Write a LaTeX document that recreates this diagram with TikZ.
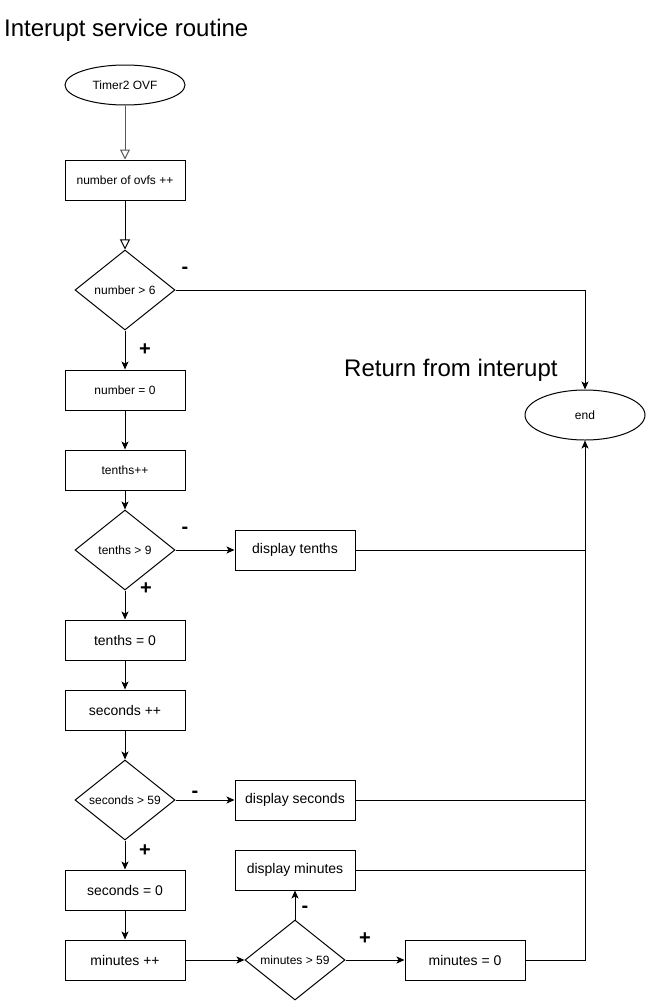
\documentclass[tikz,border=0pt]{standalone}
\usepackage{fontspec}
\setmainfont{Liberation Sans}
\usetikzlibrary{shapes.geometric,arrows.meta}
\tikzset{
  base/.style={draw, line width=1pt, inner sep=0pt, font=\fontsize{12}{14}\selectfont},
  box/.style={base, rectangle, minimum width=120pt, minimum height=40pt},
  bigbox/.style={box, font=\fontsize{14}{16}\selectfont},
  oval/.style={base, ellipse, minimum width=120pt, minimum height=40pt},
  dec/.style={base, diamond, aspect=1.25, minimum width=100pt, minimum height=80pt},
  arr/.style={line width=1pt, -{Stealth[length=8pt,width=7pt,inset=2pt]}},
  openarr/.style={line width=1pt, -{Triangle[open,length=10pt,width=10pt,fill=white]}},
  link/.style={line width=1pt},
  sign/.style={font=\fontsize{20}{22}\selectfont\bfseries, inner sep=1pt},
  title/.style={font=\fontsize{24}{28}\selectfont, inner sep=0pt}
}
\begin{document}
\begin{tikzpicture}[x=1pt,y=-1pt]
\useasboundingbox (0,0) rectangle (646,1001);
\node[title, anchor=west] (ttl) at (4,30) {Interupt service routine};
\node[title, anchor=west] (ret) at (344,370) {Return from interupt};

\node[oval] (t) at (125,85) {Timer2 OVF};
\node[box] (n1) at (125,180) {number of ovfs ++};
\node[dec] (d1) at (125,290) {number > 6};
\node[box] (n0) at (125,390) {number = 0};
\node[box] (t1) at (125,470) {tenths++};
\node[dec] (d2) at (125,550) {tenths > 9};
\node[bigbox] (dt) at (295,550) {display tenths};
\node[bigbox] (t0) at (125,640) {tenths = 0};
\node[bigbox] (s1) at (125,710) {seconds ++};
\node[dec] (d3) at (125,800) {seconds > 59};
\node[bigbox] (ds) at (295,800) {display seconds};
\node[bigbox] (s0) at (125,890) {seconds = 0};
\node[bigbox] (m1) at (125,960) {minutes ++};
\node[dec] (d4) at (295,960) {minutes > 59};
\node[bigbox] (dm) at (295,870) {display minutes};
\node[bigbox] (m0) at (465,960) {minutes = 0};
\node[oval, minimum height=50pt] (e) at (585,415) {end};

\draw[openarr, draw=black!65] (t) -- (n1);
\draw[openarr] (n1) -- (d1);
\draw[arr] (d1.east) -| (e.north);
\draw[arr] (d1.south) -- (n0.north);
\draw[arr] (n0) -- (t1);
\draw[arr] (t1) -- (d2);
\draw[arr] (d2.east) -- (dt.west);
\draw[link] (dt.east) -- (dt.east -| e.south);
\draw[arr] (d2.south) -- (t0.north);
\draw[arr] (t0) -- (s1);
\draw[arr] (s1) -- (d3);
\draw[arr] (d3.east) -- (ds.west);
\draw[link] (ds.east) -- (ds.east -| e.south);
\draw[arr] (d3.south) -- (s0.north);
\draw[arr] (s0) -- (m1);
\draw[arr] (m1.east) -- (d4.west);
\draw[arr] (d4.north) -- (dm.south);
\draw[link] (dm.east) -- (dm.east -| e.south);
\draw[arr] (d4.east) -- (m0.west);
\draw[arr] (m0.east) -| (e.south);

\node[sign] (l1) at (185,270) {-};
\node[sign] (l2) at (145,350) {+};
\node[sign] (l3) at (185,530) {-};
\node[sign] (l4) at (146,589) {+};
\node[sign, fill=white] (l5) at (195,794) {-};
\node[sign] (l6) at (145,851) {+};
\node[sign] (l7) at (305,909) {-};
\node[sign] (l8) at (365,939) {+};
\end{tikzpicture}
\end{document}
